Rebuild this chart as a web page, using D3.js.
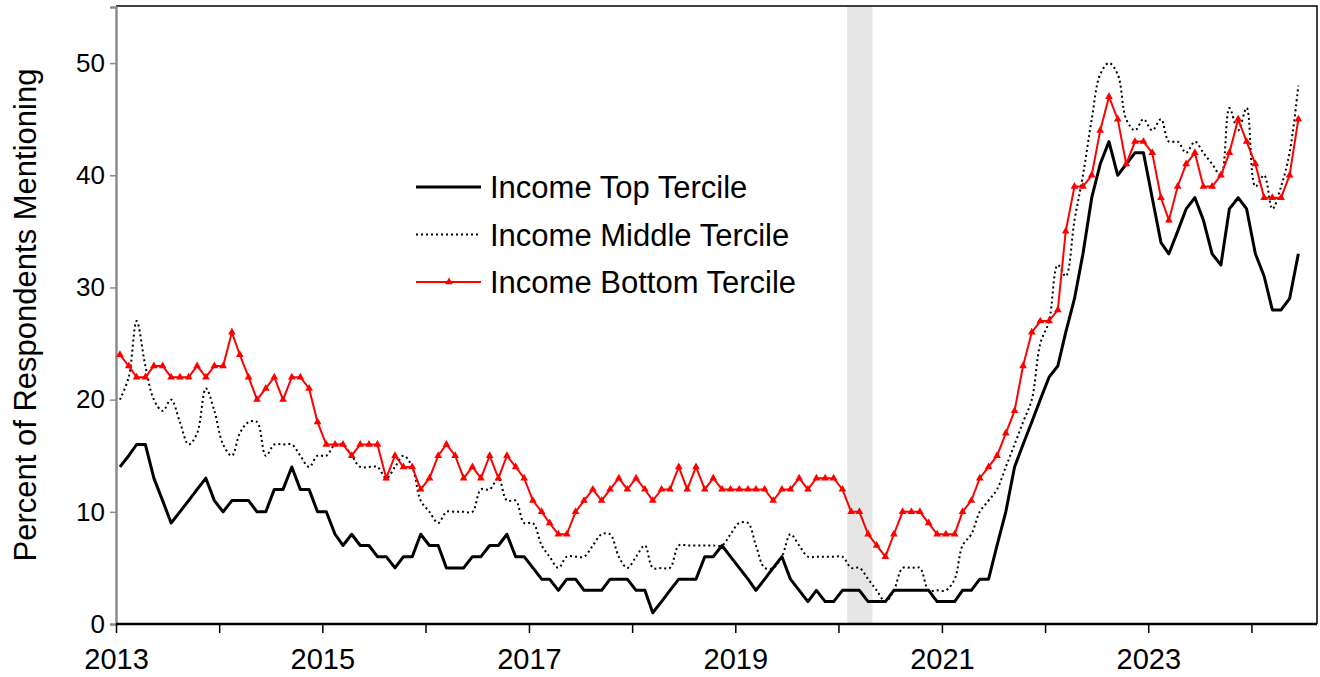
<!DOCTYPE html>
<html>
<head>
<meta charset="utf-8">
<script src="https://cdn.jsdelivr.net/npm/d3@7"></script>
<style>
  body { margin: 0; background: #fff; }
  text { font-family: "Liberation Sans", Arial, sans-serif; fill: #000; }
</style>
</head>
<body>
<svg id="chart" width="1320" height="677"></svg>
<script>
//monthly values, Jan 2013 - Jun 2024 (percent of respondents)
var topTercile = [
    14,15,16,16,13,11,9,10,11,12,13,11,10,11,11,11,10,10,12,12,14,12,12,10,
    10,8,7,8,7,7,6,6,5,6,6,8,7,7,5,5,5,6,6,7,7,8,6,6,
    5,4,4,3,4,4,3,3,3,4,4,4,3,3,1,2,3,4,4,4,6,6,7,6,
    5,4,3,4,5,6,4,3,2,3,2,2,3,3,3,2,2,2,3,3,3,3,3,2,
    2,2,3,3,4,4,7,10,14,16,18,20,22,23,26,29,33,38,41,43,40,41,42,42,
    38,34,33,35,37,38,36,33,32,37,38,37,33,31,28,28,29,33
];
var middleTercile = [
    20,22,27,23,20,19,20,18,16,17,21,19,16,15,17,18,18,15,16,16,16,15,14,15,
    15,16,16,15,14,14,14,13,14,15,14,11,10,9,10,10,10,10,12,12,13,11,11,9,
    9,7,6,5,6,6,6,7,8,8,6,5,6,7,5,5,5,7,7,7,7,7,7,8,
    9,9,7,5,5,6,8,7,6,6,6,6,6,5,5,4,3,2,3,5,5,5,3,3,
    3,4,7,8,10,11,12,14,16,18,20,25,27,32,31,36,40,45,49,50,49,45,44,45,
    44,45,43,43,42,43,42,41,40,46,44,46,39,40,37,39,42,48
];
var bottomTercile = [
    24,23,22,22,23,23,22,22,22,23,22,23,23,26,24,22,20,21,22,20,22,22,21,18,
    16,16,16,15,16,16,16,13,15,14,14,12,13,15,16,15,13,14,13,15,13,15,14,13,
    11,10,9,8,8,10,11,12,11,12,13,12,13,12,11,12,12,14,12,14,12,13,12,12,
    12,12,12,12,11,12,12,13,12,13,13,13,12,10,10,8,7,6,8,10,10,10,9,8,
    8,8,10,11,13,14,15,17,19,23,26,27,27,28,35,39,39,40,44,47,45,41,43,43,
    42,38,36,39,41,42,39,39,40,42,45,43,41,38,38,38,40,45
];
var seriesNames = ["Income Top Tercile", "Income Middle Tercile", "Income Bottom Tercile"];
var yTicks = [0, 10, 20, 30, 40, 50];
var recessionStart = new Date(2020, 1, 1),
    recessionEnd = new Date(2020, 3, 30);

drawChart();

function drawChart() {
    var svg = d3.select("#chart"),
        left = 116, right = 1317, top = 6, bottom = 624;

    //one date per month, placed mid-month
    var dates = topTercile.map(function (d, i) { return new Date(2013, i, 15); });

    var x = d3.scaleTime()
        .domain([new Date(2013, 0, 1), new Date(2024, 7, 20)])
        .range([left, right]);
    var y = d3.scaleLinear()
        .domain([0, 55])
        .range([bottom, top + 1]);

    //recession band
    svg.append("rect")
        .attr("x", x(recessionStart))
        .attr("y", top)
        .attr("width", x(recessionEnd) - x(recessionStart))
        .attr("height", bottom - top)
        .attr("fill", "#e6e6e6");

    //frame on top and right
    svg.append("path")
        .attr("d", "M" + left + "," + top + "H" + right + "V" + bottom)
        .attr("fill", "none")
        .attr("stroke", "#000")
        .attr("stroke-width", 1.5);

    //y axis (gray)
    var yAxis = svg.append("g")
        .attr("transform", "translate(" + left + ",0)")
        .call(d3.axisLeft(y).tickValues(yTicks).tickSize(6).tickPadding(5));
    yAxis.select(".domain").attr("stroke", "#8c8c8c").attr("stroke-width", 2.5);
    yAxis.selectAll(".tick line").attr("stroke", "#8c8c8c").attr("stroke-width", 1.5);
    yAxis.selectAll("text").style("font-size", "26px").attr("fill", "#000");

    //x axis, tick every year, label every other year
    var xAxis = svg.append("g")
        .attr("transform", "translate(0," + bottom + ")")
        .call(d3.axisBottom(x)
            .ticks(d3.timeYear.every(1))
            .tickSize(9)
            .tickPadding(15)
            .tickFormat(function (d) {
                var yr = d.getFullYear();
                return (yr - 2013) % 2 === 0 ? yr : "";
            }));
    xAxis.select(".domain").attr("stroke", "#000").attr("stroke-width", 2.5)
        .attr("d", "M" + left + ",0H" + right);
    xAxis.selectAll(".tick line").attr("stroke", "#000").attr("stroke-width", 1.5);
    xAxis.selectAll("text").style("font-size", "29px").attr("fill", "#000");

    //y axis title
    svg.append("text")
        .attr("transform", "translate(36,315) rotate(-90)")
        .attr("text-anchor", "middle")
        .style("font-size", "31px")
        .text("Percent of Respondents Mentioning");

    var line = d3.line()
        .x(function (d, i) { return x(dates[i]); })
        .y(function (d) { return y(d); });
    var smoothLine = d3.line()
        .x(function (d, i) { return x(dates[i]); })
        .y(function (d) { return y(d); })
        .curve(d3.curveCatmullRom.alpha(0.5));

    //middle tercile (dotted)
    svg.append("path")
        .datum(middleTercile)
        .attr("d", smoothLine)
        .attr("fill", "none")
        .attr("stroke", "#000")
        .attr("stroke-width", 2)
        .attr("stroke-dasharray", "2,3");

    //top tercile (solid black)
    svg.append("path")
        .datum(topTercile)
        .attr("d", line)
        .attr("fill", "none")
        .attr("stroke", "#000")
        .attr("stroke-width", 3)
        .attr("stroke-linejoin", "round");

    //bottom tercile (red with triangles)
    svg.append("path")
        .datum(bottomTercile)
        .attr("d", line)
        .attr("fill", "none")
        .attr("stroke", "#ff0000")
        .attr("stroke-width", 2);

    var tri = d3.symbol().type(d3.symbolTriangle).size(26);
    svg.append("g").selectAll("path")
        .data(bottomTercile)
        .enter().append("path")
        .attr("transform", function (d, i) { return "translate(" + x(dates[i]) + "," + y(d) + ")"; })
        .attr("d", tri)
        .attr("fill", "#ff0000");

    //legend
    var legend = svg.append("g").attr("transform", "translate(416,187)");
    var rowGap = 47.5;
    seriesNames.forEach(function (name, k) {
        var g = legend.append("g").attr("transform", "translate(0," + (k * rowGap) + ")");
        var l = g.append("line")
            .attr("x1", 0).attr("x2", 65)
            .attr("y1", 0).attr("y2", 0)
            .attr("stroke", k === 2 ? "#ff0000" : "#000");
        if (k === 0) l.attr("stroke-width", 3);
        if (k === 1) l.attr("stroke-width", 2).attr("stroke-dasharray", "2,3");
        if (k === 2) {
            l.attr("stroke-width", 2);
            g.append("path")
                .attr("transform", "translate(33,0)")
                .attr("d", tri)
                .attr("fill", "#ff0000");
        }
        g.append("text")
            .attr("x", 74)
            .attr("dy", "0.36em")
            .style("font-size", "31px")
            .text(name);
    });
}
</script>
</body>
</html>
